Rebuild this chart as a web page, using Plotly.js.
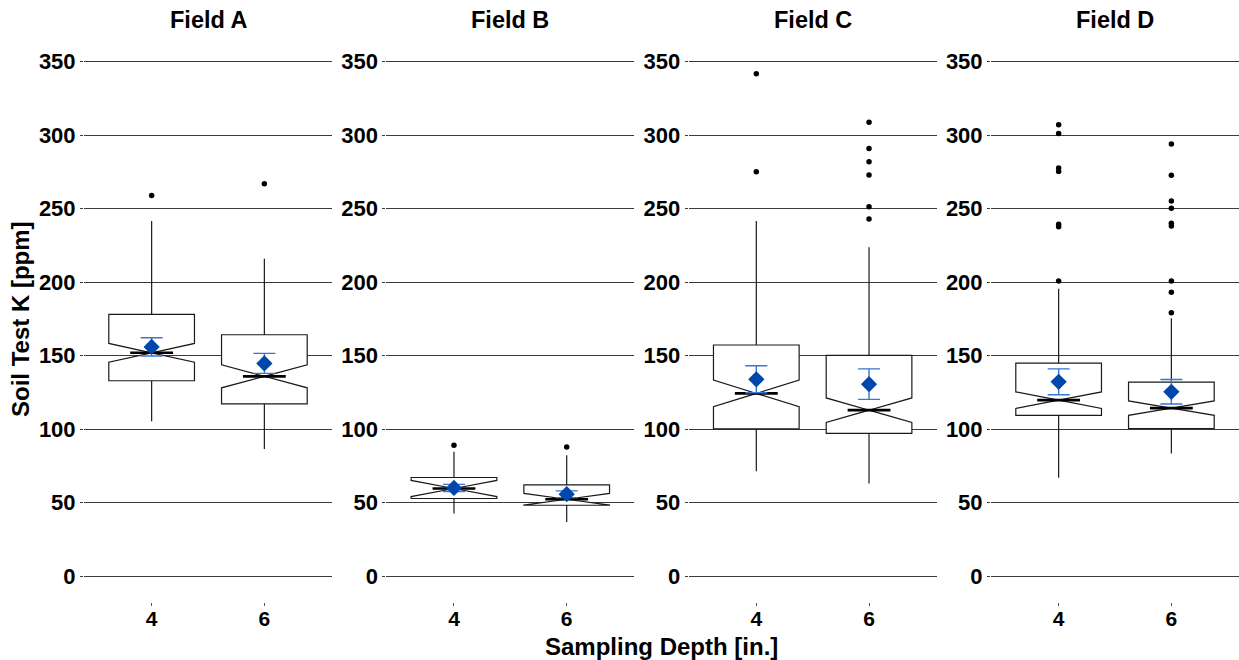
<!DOCTYPE html>
<html>
<head>
<meta charset="utf-8">
<script src="https://cdn.plot.ly/plotly-3.0.1.min.js"></script>
<style>html,body{margin:0;padding:0;background:#fff;}#chart{width:1239px;height:660px;}</style>
</head>
<body>
<div id="chart"></div>
<script>
// ---- data ----
const fields = ['Field A', 'Field B', 'Field C', 'Field D'];
const depths = ['4', '6'];
const q1 = [[133.0, 117.3], [52.9, 48.3], [100.3, 97.2], [109.4, 100.5]];
const median = [[152.0, 136.0], [59.7, 52.4], [124.4, 113.0], [119.8, 114.4]];
const q3 = [[178.2, 164.3], [67.2, 62.2], [157.3, 150.3], [145.0, 132.1]];
const lowerWhisker = [[105.5, 86.5], [42.7, 37.0], [71.5, 63.1], [67.0, 83.5]];
const upperWhisker = [[241.7, 215.9], [84.7, 82.4], [241.7, 223.8], [195.6, 175.5]];
const notchHalf = [[6.4, 7.8], [5.5, 4.0], [9.0, 8.3], [5.6, 4.9]];
const meanK = [[156.0, 144.8], [60.1, 55.8], [134.0, 130.7], [132.3, 125.5]];
const seK = [[6.2, 6.8], [2.4, 2.3], [9.2, 10.4], [8.8, 8.3]];
const outliers = [
  [[259], [267]],
  [[89.2], [88]],
  [[341.8, 275.1], [308.9, 291, 281.9, 273, 251.3, 243]],
  [[307.1, 301.2, 277.7, 275.3, 239.5, 237.8, 200.9], [294, 272.8, 255.3, 250.3, 240.1, 238.3, 200.9, 193.2, 179.3]]
];
const yTicks = [0, 50, 100, 150, 200, 250, 300, 350];

// ---- styling ----
const FONT = 'Liberation Sans, Arial, sans-serif';
const BW = 0.76, NW = 0.5;
const pos = depths.map((d, j) => j);
const W = 1239, H = 660;
const ML = 84, MR = 0, MT = 36, MB = 58;
const plotW = W - ML - MR;
const panelW = 248;
const gap = (plotW - 4 * panelW) / 3;

const traces = [];
const layout = {
  width: W, height: H,
  margin: {l: ML, r: MR, t: MT, b: MB},
  paper_bgcolor: '#fff', plot_bgcolor: '#fff',
  showlegend: false,
  font: {family: FONT, color: '#000', size: 22},
  annotations: []
};

fields.forEach((f, i) => {
  const sx = i === 0 ? '' : String(i + 1);
  const xa = 'x' + sx, ya = 'y' + sx;
  const d0 = (i * (panelW + gap)) / plotW;
  const d1 = Math.min(1, (i * (panelW + gap) + panelW) / plotW);
  layout['xaxis' + sx] = {
    domain: [d0, d1], anchor: ya, range: [-0.6, 1.6],
    tickvals: pos, ticktext: depths, ticks: 'outside', ticklen: 3, tickcolor: '#555', tickwidth: 1,
    ticklabelstandoff: -5,
    showgrid: false, zeroline: false, showline: false, fixedrange: true,
    tickfont: {family: FONT, size: 21, color: '#000', weight: 'bold'}
  };
  layout['yaxis' + sx] = {
    domain: [0, 1], anchor: xa, range: [-17.5, 367.5],
    tickvals: yTicks, ticks: 'outside', ticklen: 3, tickcolor: '#3a3a3a', tickwidth: 1,
    showgrid: true, gridcolor: '#3a3a3a', gridwidth: 1,
    zeroline: false, showline: false, fixedrange: true,
    tickfont: {family: FONT, size: 22, color: '#000', weight: 'bold'}
  };
  layout.annotations.push({
    text: f, xref: 'paper', yref: 'paper', x: (d0 + d1) / 2, y: 1,
    xanchor: 'center', yanchor: 'bottom', yshift: 1, showarrow: false,
    font: {family: FONT, size: 23.5, color: '#000', weight: 'bold'}
  });

  traces.push({
    type: 'box', x: pos, q1: q1[i], median: median[i], q3: q3[i],
    lowerfence: lowerWhisker[i], upperfence: upperWhisker[i],
    notched: true, notchspan: notchHalf[i], notchwidth: NW,
    width: BW, whiskerwidth: 0, boxpoints: false,
    fillcolor: '#ffffff', line: {color: '#1a1a1a', width: 1.2},
    xaxis: xa, yaxis: ya, hoverinfo: 'skip'
  });

  // thick median segment (ggplot fatten)
  const mx = [], my = [];
  pos.forEach((p, j) => {
    mx.push(p - BW * NW / 2, p + BW * NW / 2, null);
    my.push(median[i][j], median[i][j], null);
  });
  traces.push({type: 'scatter', mode: 'lines', x: mx, y: my, line: {color: '#000', width: 2.6},
    xaxis: xa, yaxis: ya, hoverinfo: 'skip'});

  // outliers
  const ox = [], oy = [];
  outliers[i].forEach((arr, j) => arr.forEach(v => { ox.push(pos[j]); oy.push(v); }));
  traces.push({type: 'scatter', mode: 'markers', x: ox, y: oy,
    marker: {color: '#000', size: 5.5}, xaxis: xa, yaxis: ya, hoverinfo: 'skip'});

  // mean +/- se
  traces.push({type: 'scatter', mode: 'markers', x: pos, y: meanK[i],
    marker: {symbol: 'diamond', size: 12.5, color: '#0047ab', line: {width: 0}},
    error_y: {type: 'data', array: seK[i], visible: true, color: '#3a74d6', thickness: 1.4, width: 11},
    xaxis: xa, yaxis: ya, hoverinfo: 'skip'});
});

layout.annotations.push({
  text: 'Sampling Depth [in.]', xref: 'paper', yref: 'paper', x: 0.5, y: 0,
  xanchor: 'center', yanchor: 'top', yshift: -29, showarrow: false,
  font: {family: FONT, size: 24, color: '#000', weight: 'bold'}
});
layout.annotations.push({
  text: 'Soil Test K [ppm]', xref: 'paper', yref: 'paper', x: 0, y: 0.5,
  xanchor: 'center', yanchor: 'middle', xshift: -64, textangle: -90, showarrow: false,
  font: {family: FONT, size: 24, color: '#000', weight: 'bold'}
});

Plotly.newPlot('chart', traces, layout, {displayModeBar: false, staticPlot: true});
</script>
</body>
</html>
